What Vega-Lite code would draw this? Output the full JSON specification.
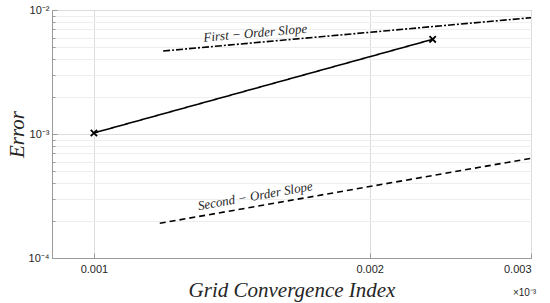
{
  "$schema": "https://vega.github.io/schema/vega-lite/v6.json",
  "autosize": "none",
  "width": 479,
  "height": 248,
  "padding": {"left": 52, "top": 10, "right": 19, "bottom": 45},
  "background": "white",
  "config": {
    "view": {"stroke": "#9a9a9a", "strokeWidth": 1},
    "axis": {"labelFont": "Liberation Sans", "labelColor": "#262626", "labelFontSize": 11, "domainColor": "#9a9a9a", "tickColor": "#9a9a9a"}
  },
  "title": {"text": "×10⁻³", "orient": "bottom", "anchor": "end", "font": "Liberation Sans", "fontSize": 10, "fontWeight": "normal", "color": "#262626", "offset": -12, "dx": 2},
  "datasets": {
    "lines": [
      {"series": "GCI", "x": 0.001, "y": 0.00102},
      {"series": "GCI", "x": 0.002343, "y": 0.0058},
      {"series": "First", "x": 0.00119, "y": 0.00467},
      {"series": "First", "x": 0.003, "y": 0.00867},
      {"series": "Second", "x": 0.00118, "y": 0.0001905},
      {"series": "Second", "x": 0.003, "y": 0.000637}
    ],
    "labels": [
      {"label": "First − Order Slope", "x": 0.0015, "y": 0.0065, "angle": -5},
      {"label": "Second − Order Slope", "x": 0.0015, "y": 0.000315, "angle": -10}
    ]
  },
  "layer": [
    {
      "data": {"name": "lines"},
      "mark": {"type": "line", "color": "black", "strokeWidth": 1.6},
      "encoding": {
        "x": {
          "field": "x", "type": "quantitative",
          "scale": {"type": "log", "domain": [0.0009, 0.003], "nice": false},
          "axis": {
            "values": [0.001, 0.002, 0.003], "format": ".3f", "grid": true, "gridColor": "#dcdcdc",
            "tickSize": -5, "labelPadding": 10, "domain": true,
            "title": "Grid Convergence Index", "titleFont": "Liberation Serif", "titleFontStyle": "italic",
            "titleFontWeight": "normal", "titleFontSize": 21, "titleColor": "#262626", "titlePadding": 5
          }
        },
        "y": {
          "field": "y", "type": "quantitative",
          "scale": {"type": "log", "domain": [0.0001, 0.01], "nice": false},
          "axis": {
            "values": [0.0001, 0.0002, 0.0003, 0.0004, 0.0005, 0.0006, 0.0007, 0.0008, 0.0009, 0.001, 0.002, 0.003, 0.004, 0.005, 0.006, 0.007, 0.008, 0.009, 0.01],
            "labelExpr": "datum.value == 0.0001 ? '10⁻⁴' : datum.value == 0.001 ? '10⁻³' : datum.value == 0.01 ? '10⁻²' : ''",
            "grid": true,
            "gridColor": {"condition": {"test": "datum.value == 0.001 || datum.value == 0.01 || datum.value == 0.0001", "value": "#dcdcdc"}, "value": "#eeeeee"},
            "tickSize": {"condition": {"test": "datum.value == 0.001 || datum.value == 0.01 || datum.value == 0.0001", "value": -5}, "value": -3},
            "labelPadding": 8,
            "title": "Error", "titleFont": "Liberation Serif", "titleFontStyle": "italic",
            "titleFontWeight": "normal", "titleFontSize": 21, "titleColor": "#262626", "titlePadding": 1
          }
        },
        "detail": {"field": "series"},
        "strokeDash": {
          "field": "series", "type": "nominal",
          "scale": {"domain": ["GCI", "First", "Second"], "range": [[1, 0], [7, 2, 2, 2], [6, 4]]},
          "legend": null
        }
      }
    },
    {
      "data": {"name": "lines"},
      "transform": [{"filter": "datum.series == 'GCI'"}],
      "mark": {"type": "point", "shape": "M-1,-1L1,1M-1,1L1,-1", "filled": false, "stroke": "black", "strokeWidth": 1.8, "size": 40, "opacity": 1},
      "encoding": {
        "x": {"field": "x", "type": "quantitative"},
        "y": {"field": "y", "type": "quantitative"}
      }
    },
    {
      "data": {"name": "labels"},
      "mark": {"type": "text", "font": "Liberation Serif", "fontStyle": "italic", "fontSize": 13, "color": "#262626", "align": "center", "baseline": "middle"},
      "encoding": {
        "x": {"field": "x", "type": "quantitative"},
        "y": {"field": "y", "type": "quantitative"},
        "text": {"field": "label"},
        "angle": {"field": "angle", "type": "quantitative", "scale": null}
      }
    }
  ]
}
